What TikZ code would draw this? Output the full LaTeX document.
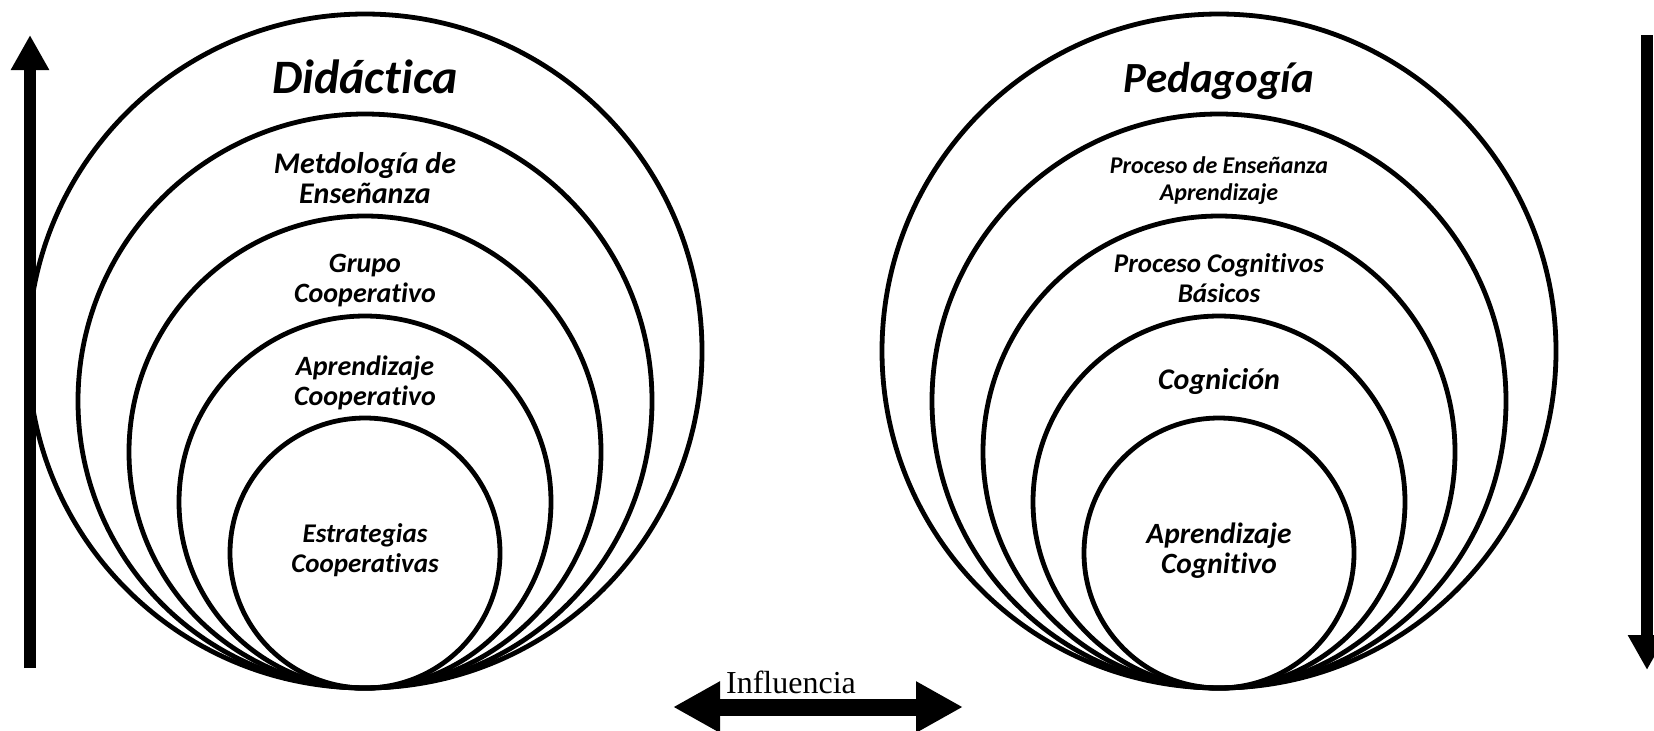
\documentclass[tikz,border=0pt]{standalone}
\usepackage{fontspec}
\setmainfont{Liberation Serif}
\newfontfamily\calib[Ligatures=NoCommon]{Carlito}
\usetikzlibrary{arrows.meta}

\newcommand{\lblfont}[1]{\calib\bfseries\itshape\fontsize{#1}{15}\selectfont}

\begin{document}
\begin{tikzpicture}[x=0.5pt, y=-0.5pt,
  ring/.style={circle, draw=black, line width=2.4pt, inner sep=0pt},
  lbl/.style={font=\lblfont{14}, align=center, anchor=base},
  ttl/.style={font=\calib\bfseries\itshape\fontsize{23}{25}\selectfont, anchor=base},
  fat/.style={line width=6pt, -{Triangle[length=17.5pt,width=18pt]}}]
  \useasboundingbox (0,0) rectangle (1654,730);

  %didactica rings
  \foreach \r [count=\i] in {337,287,236,186,135}
    \node[ring, minimum size=\r pt] (d\i) at (365,688-\r) {};
  %pedagogia rings
  \foreach \r [count=\i] in {337,287,236,186,135}
    \node[ring, minimum size=\r pt] (p\i) at (1219,688-\r) {};

  %didactica labels
  \node[ttl, font=\calib\bfseries\itshape\fontsize{24}{26}\selectfont] (didac) at (365,93) {Didáctica};
  \node[lbl, font=\lblfont{15}] (metod) at (365,203) {Metdología de\\Enseñanza};
  \node[lbl] (grupo) at (365,302) {Grupo\\Cooperativo};
  \node[lbl] (aprco) at (365,405) {Aprendizaje\\Cooperativo};
  \node[lbl, font=\lblfont{13.5}] (estra) at (365,572) {Estrategias\\Cooperativas};

  %pedagogia labels
  \node[ttl, font=\calib\bfseries\itshape\fontsize{21.5}{24}\selectfont] (pedag) at (1219,92) {Pedagogía};
  \node[lbl, font=\calib\bfseries\itshape\fontsize{12}{13.5}\selectfont] (proen) at (1219,200) {Proceso de Enseñanza\\Aprendizaje};
  \node[lbl, font=\lblfont{13.5}] (procog) at (1219,302) {Proceso Cognitivos\\Básicos};
  \node[lbl, font=\lblfont{15}] (cogn) at (1219,389) {Cognición};
  \node[lbl, font=\lblfont{14.7}] (aprcog) at (1219,573) {Aprendizaje\\Cognitivo};

  %arrows
  \coordinate (upB) at (30,668);
  \coordinate (upT) at (30,35);
  \coordinate (dnT) at (1647,35);
  \coordinate (dnB) at (1647,670);
  \coordinate (infL) at (673,707);
  \coordinate (infR) at (963,707);
  \node[anchor=base, font=\fontsize{16}{18}\selectfont] (infl) at (791,693) {Influencia};

  \path[fat]
    (upB) edge (upT)
    (dnT) edge (dnB);
  \draw[line width=8.5pt, {Triangle[length=23.5pt,width=24pt]}-{Triangle[length=23.5pt,width=24pt]}] (infL) -- (infR);
\end{tikzpicture}
\end{document}
